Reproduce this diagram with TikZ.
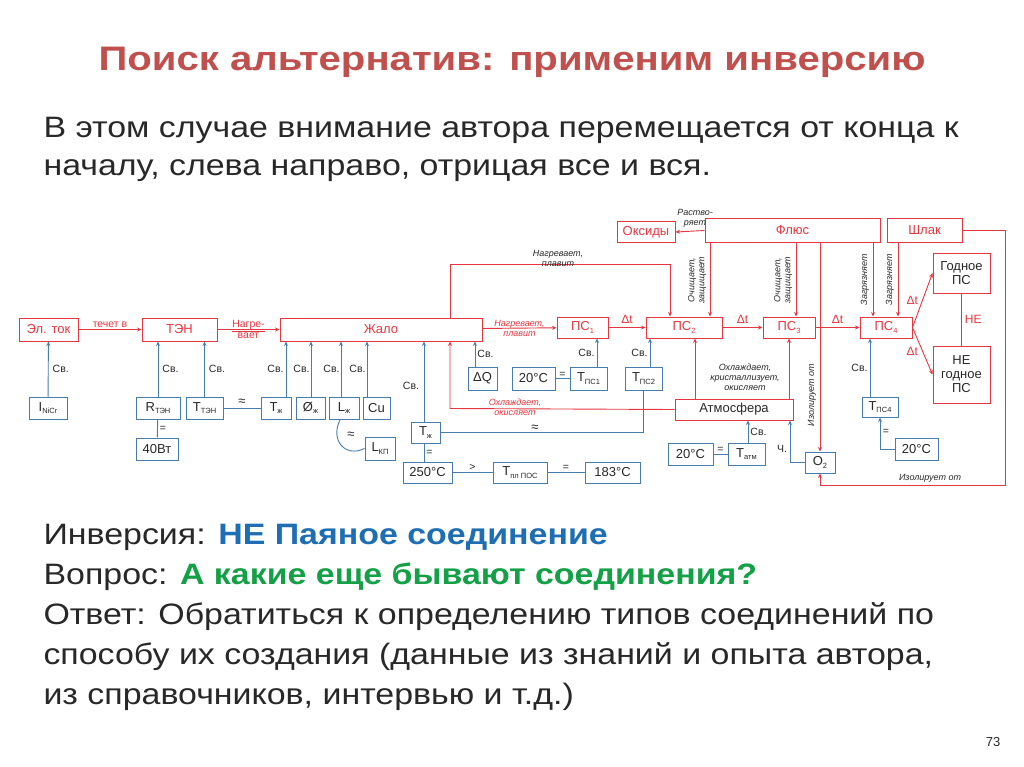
\documentclass[tikz,border=0pt]{standalone}
\usepackage{fontspec}
\setmainfont{Liberation Sans}
\usetikzlibrary{arrows.meta}
\definecolor{tred}{RGB}{192,80,77}
\definecolor{dred}{RGB}{230,55,65}
\definecolor{dblue}{RGB}{70,125,175}
\definecolor{txt}{RGB}{40,40,40}
\definecolor{qblue}{RGB}{30,110,180}
\definecolor{qgreen}{RGB}{20,160,70}
\newcommand\lowsub[1]{\raisebox{-0.35ex}{\fontsize{7.5}{8}\selectfont #1}}
\newcommand\wide[1]{\scalebox{1.15}[1]{#1}}
\begin{document}
\begin{tikzpicture}[x=1pt,y=-1pt,
  rbox/.style={draw=dred,line width=1pt,text=dred,inner sep=0pt,font=\fontsize{13}{14}\selectfont,align=center},
  bbox/.style={draw=dblue,line width=1pt,text=txt,inner sep=0pt,fill=white,font=\fontsize{13}{14}\selectfont},
  rarr/.style={draw=dred,line width=0.9pt,-{Stealth[length=4.5pt,width=4pt]}},
  rln/.style={draw=dred,line width=0.9pt},
  barr/.style={draw=dblue,line width=0.9pt,-{Stealth[length=4.5pt,width=4pt]}},
  bln/.style={draw=dblue,line width=0.9pt},
  lab/.style={text=txt,font=\fontsize{10.5}{11}\selectfont,inner sep=1pt},
  rlab/.style={text=dred,font=\fontsize{10.5}{11}\selectfont,inner sep=1pt,align=center},
  dlab/.style={text=dred,font=\fontsize{12}{13}\selectfont,inner sep=1pt},
  ilab/.style={text=txt,font=\fontsize{9}{10}\selectfont\itshape,inner sep=1pt,align=center},
  irlab/.style={text=dred,font=\fontsize{9}{10}\selectfont\itshape,inner sep=1pt,align=center}]
\useasboundingbox (0,0) rectangle (1024,767);
\fill[white] (0,0) rectangle (1024,767);
% texts
\node[text=tred,font=\fontsize{34}{36}\selectfont\bfseries] (title) at (512,62) {\scalebox{1.18}[1]{Поиск альтернатив: применим инверсию}};
\node[text=txt,font=\fontsize{29.5}{38}\selectfont,anchor=west,align=left] (intro) at (40,149) {\wide{В этом случае внимание автора перемещается от конца к}\\\wide{началу, слева направо, отрицая все и вся.}};
\node[text=txt,font=\fontsize{29.5}{40}\selectfont,anchor=north west,align=left] (bottom) at (40,521) {\wide{Инверсия: \textcolor{qblue}{\bfseries НЕ Паяное соединение}}\\\wide{Вопрос: \textcolor{qgreen}{\bfseries А какие еще бывают соединения?}}\\\wide{Ответ: Обратиться к определению типов соединений по}\\\wide{способу их создания (данные из знаний и опыта автора,}\\\wide{из справочников, интервью и т.д.)}};
\node[text=txt,font=\fontsize{13}{14}\selectfont] (pg) at (993,742) {73};
% red boxes
\node[rbox,minimum width=59pt,minimum height=23pt] (el) at (48.5,329.5) {Эл. ток};
\node[rbox,minimum width=75pt,minimum height=23pt] (ten) at (179.5,329.5) {ТЭН};
\node[rbox,minimum width=202pt,minimum height=23pt] (zh) at (381,329.5) {Жало};
\node[rbox,minimum width=51pt,minimum height=21pt] (ps1) at (582.5,327.5) {ПС\lowsub{1}};
\node[rbox,minimum width=76pt,minimum height=21pt] (ps2) at (684,327.5) {ПС\lowsub{2}};
\node[rbox,minimum width=52pt,minimum height=21pt] (ps3) at (789,327.5) {ПС\lowsub{3}};
\node[rbox,minimum width=52pt,minimum height=21pt] (ps4) at (886,327.5) {ПС\lowsub{4}};
\node[rbox,minimum width=58pt,minimum height=20pt] (ox) at (646,232) {Оксиды};
\node[rbox,minimum width=175pt,minimum height=23pt] (fl) at (792.5,230.5) {Флюс};
\node[rbox,minimum width=75pt,minimum height=23pt] (sl) at (924.5,230.5) {Шлак};
\node[rbox,minimum width=57pt,minimum height=40pt,text=txt] (god) at (961.5,273) {Годное\\ПС};
\node[rbox,minimum width=57pt,minimum height=57pt,text=txt] (ngod) at (961.5,374.5) {НЕ\\годное\\ПС};
\node[rbox,minimum width=118pt,minimum height=21pt,text=txt] (atm) at (734,409.5) {Атмосфера};
% blue boxes
\node[bbox,minimum width=38pt,minimum height=22pt] (inicr) at (48,408) {I\lowsub{NiCr}};
\node[bbox,minimum width=44pt,minimum height=22pt] (rten) at (158,408) {R\lowsub{ТЭН}};
\node[bbox,minimum width=37pt,minimum height=22pt] (tten) at (204.5,408) {T\lowsub{ТЭН}};
\node[bbox,minimum width=42pt,minimum height=22pt] (w40) at (157,449) {40Вт};
\node[bbox,minimum width=30pt,minimum height=22pt] (tzh) at (276,408) {T\lowsub{ж}};
\node[bbox,minimum width=29pt,minimum height=22pt] (dzh) at (310.5,408) {Ø\lowsub{ж}};
\node[bbox,minimum width=30pt,minimum height=22pt] (lzh) at (344,408) {L\lowsub{ж}};
\node[bbox,minimum width=27pt,minimum height=22pt] (cu) at (376.5,408) {Cu};
\node[bbox,minimum width=30pt,minimum height=23pt] (lkp) at (380,448.5) {L\lowsub{КП}};
\node[bbox,minimum width=29pt,minimum height=21pt] (tzh2) at (425.5,432.5) {T\lowsub{ж}};
\node[bbox,minimum width=49pt,minimum height=21pt] (c250) at (427.5,472.5) {250°C};
\node[bbox,minimum width=54pt,minimum height=21pt] (tpl) at (520,472.5) {T\lowsub{пл ПОС}};
\node[bbox,minimum width=55pt,minimum height=21pt] (c183) at (612.5,472.5) {183°C};
\node[bbox,minimum width=29pt,minimum height=23pt] (dq) at (482.5,378.5) {ΔQ};
\node[bbox,minimum width=43pt,minimum height=23pt] (c20a) at (533.5,378.5) {20°C};
\node[bbox,minimum width=37pt,minimum height=23pt] (tps1) at (588.5,378.5) {T\lowsub{ПС1}};
\node[bbox,minimum width=37pt,minimum height=23pt] (tps2) at (643.5,378.5) {T\lowsub{ПС2}};
\node[bbox,minimum width=45pt,minimum height=22pt] (c20b) at (690.5,454) {20°C};
\node[bbox,minimum width=37pt,minimum height=22pt] (tatm) at (746.5,454) {T\lowsub{атм}};
\node[bbox,minimum width=30pt,minimum height=21pt] (o2) at (820,462.5) {O\lowsub{2}};
\node[bbox,minimum width=36pt,minimum height=20pt] (tps4) at (880,407) {T\lowsub{ПС4}};
\node[bbox,minimum width=43pt,minimum height=22pt] (c20c) at (916.5,449) {20°C};
% coordinates
\coordinate (kx450) at (450,0); \coordinate (kx670) at (670,0);
\coordinate (ktop) at (0,264);
% red connectors
\draw[rarr] (el) -- (ten) node[rlab,midway,above=0pt] {течет в};
\draw[rarr] (ten) -- (zh) node[rlab,midway] {\underline{Нагре-}\\вает};
\draw[rarr] (zh) -- (ps1) node[irlab,midway] {Нагревает,\\плавит};
\draw[rarr] (ps1) -- (ps2) node[dlab,midway,above=2pt] {Δt};
\draw[rarr] (ps2) -- (ps3) node[dlab,midway,above=2pt] {Δt};
\draw[rarr] (ps3) -- (ps4) node[dlab,midway,above=2pt] {Δt};
\draw[rarr] (ps4.east) -- (god.west) node[dlab,midway,left=3pt] {Δt};
\draw[rarr] (ps4.east) -- (ngod.west) node[dlab,midway,left=3pt] {Δt};
\draw[rln] (god) -- (ngod) node[dlab,midway,right=2pt] {НЕ};
\draw[rarr] (zh.north -| kx450) -- (kx450 |- ktop) -- (kx670 |- ktop) -- (ps2.north -| kx670);
\node[ilab] (lb1) at (558,258) {Нагревает,\\плавит};
\draw[rarr] (fl.west) -- (ox.east);
\node[ilab,anchor=south] (lb2) at (695,229) {Раство-\\ряет};
\draw[rarr] (atm.west) -- (450,408.5) -- (zh.south -| kx450);
\node[irlab] (lb3) at (515,407) {Охлаждает,\\окисляет};
\draw[rarr] (atm.north -| 695,0) -- (ps2.south -| 695,0);
\draw[rarr] (atm.north -| 789,0) -- (ps3.south -| 789,0);
\node[ilab] (lb4) at (745,377) {Охлаждает,\\кристаллизует,\\окисляет};
\draw[rarr] (fl.south -| 710,0) -- (ps2.north -| 710,0);
\node[ilab,rotate=90] (lb5) at (697,280) {Очищает,\\защищает};
\draw[rarr] (fl.south -| 796,0) -- (ps3.north -| 796,0);
\node[ilab,rotate=90] (lb6) at (783,280) {Очищает,\\защищает};
\draw[rarr] (fl.south -| 873,0) -- (ps4.north -| 873,0);
\node[ilab,rotate=90] (lb7) at (865,280) {Загрязняет};
\draw[rarr] (sl.south -| 898,0) -- (ps4.north -| 898,0);
\node[ilab,rotate=90] (lb8) at (890,280) {Загрязняет};
\draw[rarr] (fl.south -| o2) -- (o2.north);
\node[ilab,rotate=90] (lb9) at (812,395) {Изолирует от};
\draw[rarr] (sl.east) -- (1005,230.5) -- (1005,485) -- (820,485) -- (o2.south);
\node[ilab] (lb10) at (930,478) {Изолирует от};
% blue connectors
\draw[barr] (inicr) -- (el) node[lab,midway,right=3pt] {Св.};
\draw[barr] (rten) -- (rten |- ten.south) node[lab,midway,right=3pt] {Св.};
\draw[barr] (tten) -- (tten |- ten.south) node[lab,midway,right=3pt] {Св.};
\draw[bln] (rten) -- (w40) node[lab,midway,right=1pt] {=};
\draw[bln] (tten) -- (tzh) node[lab,midway,above=1pt,font=\fontsize{13}{13}\selectfont] {≈};
\draw[barr] (tzh.north -| 286,0) -- (zh.south -| 286,0) node[lab,midway,left=1pt] {Св.};
\draw[barr] (dzh.north -| 311,0) -- (zh.south -| 311,0) node[lab,midway,left=0pt] {Св.};
\draw[barr] (lzh.north -| 341,0) -- (zh.south -| 341,0) node[lab,midway,left=0pt] {Св.};
\draw[barr] (cu.north -| 367,0) -- (zh.south -| 367,0) node[lab,midway,left=0pt] {Св.};
\draw[bln] (340,420) .. controls (330,440) and (345,458) .. (lkp.west);
\node[lab,font=\fontsize{13}{13}\selectfont] (ap1) at (351,435) {≈};
\draw[barr] (tzh2.north -| 424,0) -- (zh.south -| 424,0);
\node[lab] (sv1) at (411,386) {Св.};
\draw[bln] (tzh2.east) -- (tzh2.east -| tps2) -- (tps2.south);
\node[lab,font=\fontsize{13}{13}\selectfont] (ap2) at (535,428) {≈};
\draw[bln] (tzh2.south -| 424,0) -- (c250.north -| 424,0) node[lab,midway,right=1pt] {=};
\draw[bln] (c250) -- (tpl) node[lab,midway,above=1pt] {>};
\draw[bln] (tpl) -- (c183) node[lab,midway,above=1pt] {=};
\draw[barr] (dq.north -| 475,0) -- (zh.south -| 475,0) node[lab,midway,right=1pt] {Св.};
\draw[bln] (c20a) -- (tps1) node[lab,midway,above=0pt] {=};
\draw[barr] (tps1.north -| 597,0) -- (ps1.south -| 597,0) node[lab,midway,left=1pt] {Св.};
\draw[barr] (tps2.north -| 650,0) -- (ps2.south -| 650,0) node[lab,midway,left=1pt] {Св.};
\draw[bln] (c20b) -- (tatm) node[lab,midway,above=0pt] {=};
\draw[barr] (tatm.north -| 748,0) -- (atm.south -| 748,0) node[lab,midway,right=1pt] {Св.};
\draw[barr] (o2.west) -- (790,462.5) -- (atm.south -| 790,0);
\node[lab] (ch) at (782,449) {Ч.};
\draw[barr] (tps4.north -| 870,0) -- (ps4.south -| 870,0) node[lab,midway,left=1pt] {Св.};
\draw[barr] (c20c.west) -- (880,449) -- (tps4.south -| 880,0);
\node[lab] (eq4) at (886,432) {=};
\end{tikzpicture}
\end{document}
